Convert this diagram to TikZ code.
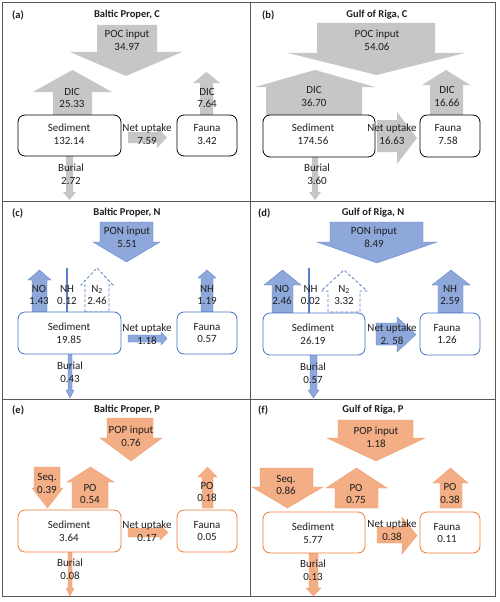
\documentclass[tikz,border=0pt]{standalone}
\usepackage{fontspec}
\setmainfont{Carlito}
\definecolor{txt}{HTML}{1F1F1F}
\definecolor{gridc}{HTML}{595959}
\definecolor{cgray}{HTML}{C6C6C6}
\definecolor{nblue}{HTML}{8EA8DB}
\definecolor{nline}{HTML}{5B7FC7}
\definecolor{nbox}{HTML}{4472C4}
\definecolor{porange}{HTML}{F4AE85}
\definecolor{pline}{HTML}{EE9A66}
\definecolor{pbox}{HTML}{ED7D31}
\newcommand\blkv[8]{\path[#1] (#2,#6) -- (#2,#7) -- (#4,#7) -- ({(#4+#5)/2},#8) -- (#5,#7) -- (#3,#7) -- (#3,#6) -- cycle;}
\newcommand\blkh[8]{\path[#1] (#6,#2) -- (#7,#2) -- (#7,#4) -- (#8,{(#4+#5)/2}) -- (#7,#5) -- (#7,#3) -- (#6,#3) -- cycle;}
\begin{document}
\begin{tikzpicture}[x=1pt,y=-1pt,
  font=\fontsize{11}{12.8}\selectfont,
  lbl/.style={align=center,inner sep=0pt,text=txt},
  ttl/.style={inner sep=0pt,text=txt,font=\fontsize{10.5}{12.5}\selectfont\bfseries},
  gridline/.style={draw=gridc,line width=0.8pt},
  cbox/.style={draw=black,fill=white,rounded corners=7pt,line width=0.8pt,inner sep=0pt},
  nboxs/.style={draw=nbox,fill=white,rounded corners=7pt,line width=0.8pt,inner sep=0pt},
  pboxs/.style={draw=pbox,fill=white,rounded corners=7pt,line width=0.8pt,inner sep=0pt},
  carr/.style={fill=cgray},
  narr/.style={fill=nblue,draw=nline,line width=0.3pt},
  parr/.style={fill=porange,draw=pline,line width=0.3pt},
  n2arr/.style={fill=white,draw=nline,dashed,dash pattern=on 3pt off 2pt,line width=0.8pt},
  nhline/.style={draw=nline,line width=1.2pt}]
\useasboundingbox (0,0) rectangle (500,602);
\fill[white] (0,0) rectangle (500,602);
% grid
\draw[gridline] (2.5,2) rectangle (495,596);
\draw[gridline] (250,2) -- (250,596);
\draw[gridline] (2.5,201) -- (495,201);
\draw[gridline] (2.5,399) -- (495,399);

% ---------------- (a)
\node[ttl,anchor=west] (labA) at (12,15) {(a)};
\node[ttl] (ttlA) at (127,15) {Baltic Proper, C};
\blkv{carr}{97}{157}{70}{182}{25}{52}{76}
\blkv{carr}{53}{92}{33}{112}{115}{92}{70}
\blkv{carr}{200}{213}{193}{220}{115}{83}{72}
\blkh{carr}{132}{143}{127}{148}{128}{157}{167}
\blkv{carr}{66}{73}{63}{76}{156}{192}{200}
\node[cbox,minimum width=103pt,minimum height=41pt] (sedA) at (69.5,135.5) {};
\node[cbox,minimum width=60pt,minimum height=41pt] (fauA) at (207,135.5) {};
\node[lbl] (pocA) at (127,40.5) {POC input\\34.97};
\node[lbl] (dicA) at (72,98) {DIC\\25.33};
\node[lbl] (dicfA) at (207,98) {DIC\\7.64};
\node[lbl] (netA) at (147,134.5) {Net uptake\\7.59};
\node[lbl] (burA) at (71,174) {Burial\\2.72};
\node[lbl] (sedtA) at (69,134.5) {Sediment\\132.14};
\node[lbl] (fautA) at (207,134.5) {Fauna\\3.42};

% ---------------- (b)
\node[ttl,anchor=west] (labB) at (262,15) {(b)};
\node[ttl] (ttlB) at (377,15) {Gulf of Riga, C};
\blkv{carr}{317}{435}{288}{465}{23}{53}{75}
\blkv{carr}{266}{362}{255}{375}{115}{87}{70}
\blkv{carr}{430}{463}{422}{470}{115}{85}{70}
\blkh{carr}{120}{152}{112}{164}{377}{397}{417}
\blkv{carr}{312}{318}{309}{321}{157}{192}{200}
\node[cbox,minimum width=112pt,minimum height=42pt] (sedB) at (319,136) {};
\node[cbox,minimum width=60pt,minimum height=42pt] (fauB) at (450,136) {};
\node[lbl] (pocB) at (377,40.5) {POC input\\54.06};
\node[lbl] (dicB) at (314,96.5) {DIC\\36.70};
\node[lbl] (dicfB) at (447,96.5) {DIC\\16.66};
\node[lbl] (netB) at (392,134.5) {Net uptake\\16.63};
\node[lbl] (burB) at (317,174) {Burial\\3.60};
\node[lbl] (sedtB) at (313,134.5) {Sediment\\174.56};
\node[lbl] (fautB) at (448,134.5) {Fauna\\7.58};

% ---------------- (c)
\node[ttl,anchor=west] (labC) at (12,213) {(c)};
\node[ttl] (ttlC) at (127,213) {Baltic Proper, N};
\blkv{narr}{100}{153}{93}{160}{222}{242}{262}
\blkv{narr}{32}{47}{28}{51}{312}{280}{270}
\draw[nhline] (67,268) -- (67,312);
\blkv{n2arr}{85}{109}{81}{113}{312}{285}{268}
\blkv{narr}{201}{213}{198}{216}{312}{278}{270}
\blkh{narr}{335}{342}{332}{345}{128}{161}{167}
\blkv{narr}{68}{72}{66}{74}{354}{390}{398}
\node[nboxs,minimum width=103pt,minimum height=42pt] (sedC) at (69.5,333) {};
\node[nboxs,minimum width=60pt,minimum height=42pt] (fauC) at (207,333) {};
\node[lbl] (ponC) at (127,237.5) {PON input\\5.51};
\node[lbl] (noC) at (39,295) {NO\\1.43};
\node[lbl] (nhC) at (67,295) {NH\\0.12};
\node[lbl] (ntwoC) at (97,295) {N\textsubscript{2}\\2.46};
\node[lbl] (nhfC) at (207,295) {NH\\1.19};
\node[lbl] (netC) at (147,334.5) {Net uptake\\1.18};
\node[lbl] (burC) at (70,372) {Burial\\0.43};
\node[lbl] (sedtC) at (69,333) {Sediment\\19.85};
\node[lbl] (fautC) at (207,333) {Fauna\\0.57};

% ---------------- (d)
\node[ttl,anchor=west] (labD) at (258,213) {(d)};
\node[ttl] (ttlD) at (373,213) {Gulf of Riga, N};
\blkv{narr}{330}{423}{317}{437}{222}{242}{263}
\blkv{narr}{272}{293}{264}{301}{313}{285}{270}
\draw[nhline] (309,268) -- (309,313);
\blkv{n2arr}{328}{360}{321}{367}{312}{291}{270}
\blkv{narr}{438}{463}{432}{470}{313}{285}{270}
\blkh{narr}{323}{345}{317}{352}{376}{397}{416}
\blkv{narr}{310}{317}{308}{319}{355}{390}{398}
\node[nboxs,minimum width=102pt,minimum height=42pt] (sedD) at (314,334) {};
\node[nboxs,minimum width=60pt,minimum height=42pt] (fauD) at (450,334) {};
\node[lbl] (ponD) at (374,237.5) {PON input\\8.49};
\node[lbl] (noD) at (282,295) {NO\\2.46};
\node[lbl] (nhD) at (310.5,295) {NH\\0.02};
\node[lbl] (ntwoD) at (344,295) {N\textsubscript{2}\\3.32};
\node[lbl] (nhfD) at (450,295) {NH\\2.59};
\node[lbl] (netD) at (392,334) {Net uptake\\2. 58};
\node[lbl] (burD) at (313,373) {Burial\\0.57};
\node[lbl] (sedtD) at (313,334) {Sediment\\26.19};
\node[lbl] (fautD) at (447,334) {Fauna\\1.26};

% ---------------- (e)
\node[ttl,anchor=west] (labE) at (12,410) {(e)};
\node[ttl] (ttlE) at (127,410) {Baltic Proper, P};
\blkv{parr}{107}{153}{100}{162}{418}{438}{461}
\blkv{parr}{34}{60}{32}{63}{467}{488}{508}
\blkv{parr}{72}{108}{67}{114}{508}{482}{467}
\blkv{parr}{202}{213}{198}{217}{508}{477}{467}
\blkh{parr}{528}{537}{525}{540}{128}{160}{168}
\blkv{parr}{68}{72}{66}{74}{552}{588}{596}
\node[pboxs,minimum width=103pt,minimum height=42pt] (sedE) at (69.5,531) {};
\node[pboxs,minimum width=60pt,minimum height=42pt] (fauE) at (207,531) {};
\node[lbl] (popE) at (131,436) {POP input\\0.76};
\node[lbl] (seqE) at (47,483.5) {Seq.\\0.39};
\node[lbl] (poE) at (90,494) {PO\\0.54};
\node[lbl] (pofE) at (207,492) {PO\\0.18};
\node[lbl] (netE) at (147,531) {Net uptake\\0.17};
\node[lbl] (burE) at (70,569.5) {Burial\\0.08};
\node[lbl] (sedtE) at (69,531) {Sediment\\3.64};
\node[lbl] (fautE) at (207,531) {Fauna\\0.05};

% ---------------- (f)
\node[ttl,anchor=west] (labF) at (258,410) {(f)};
\node[ttl] (ttlF) at (373,410) {Gulf of Riga, P};
\blkv{parr}{338}{413}{327}{425}{420}{438}{461}
\blkv{parr}{260}{313}{252}{323}{468}{487}{508}
\blkv{parr}{335}{378}{326}{387}{508}{488}{468}
\blkv{parr}{440}{462}{433}{468}{508}{483}{468}
\blkh{parr}{527}{543}{517}{554}{377}{402}{417}
\blkv{parr}{309}{318}{306}{321}{553}{588}{596}
\node[pboxs,minimum width=102pt,minimum height=41pt] (sedF) at (314,532.5) {};
\node[pboxs,minimum width=60pt,minimum height=41pt] (fauF) at (450,532.5) {};
\node[lbl] (popF) at (376,437) {POP input\\1.18};
\node[lbl] (seqF) at (286,485) {Seq.\\0.86};
\node[lbl] (poF) at (356,494) {PO\\0.75};
\node[lbl] (pofF) at (450,493.5) {PO\\0.38};
\node[lbl] (netF) at (392,530.5) {Net uptake\\0.38};
\node[lbl] (burF) at (313,570) {Burial\\0.13};
\node[lbl] (sedtF) at (313,533) {Sediment\\5.77};
\node[lbl] (fautF) at (447,533) {Fauna\\0.11};
\end{tikzpicture}
\end{document}
